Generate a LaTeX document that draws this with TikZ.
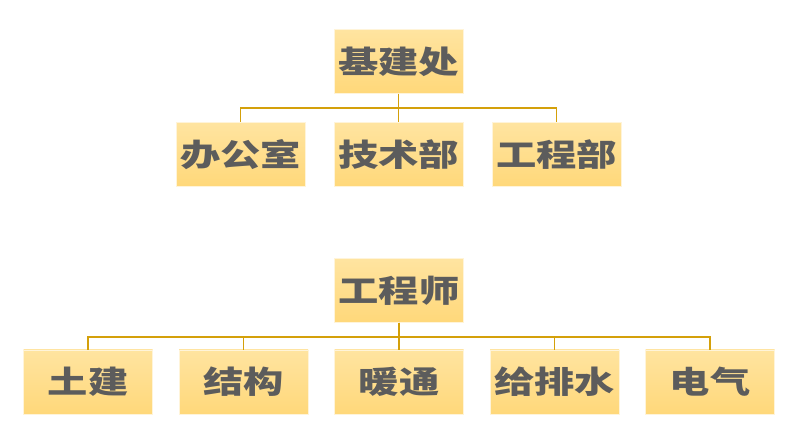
\documentclass[tikz,border=0pt]{standalone}
\usepackage{fontspec}
\usepackage{tikz}
\newfontfamily\cjk{Noto Sans CJK SC}[FakeStretch=1.3]
\definecolor{boxtop}{RGB}{255,228,160}
\definecolor{boxbot}{RGB}{255,216,122}
\definecolor{linkcol}{RGB}{212,160,10}
\definecolor{txtgray}{RGB}{92,92,92}

\begin{document}
\begin{tikzpicture}[x=1pt,y=1pt,
  box/.style={rectangle,minimum width=129pt,minimum height=64pt,inner sep=0pt,
    top color=boxtop,bottom color=boxbot,draw=boxtop!40!white,line width=0.6pt,
    text=txtgray,font=\cjk\bfseries\fontsize{31}{31}\selectfont},
  link/.style={draw=linkcol,line width=1.6pt},
  edge from parent/.style={link},
  edge from parent path={(\tikzparentnode.south) -- +(0,-14pt) -| (\tikzchildnode.north)}]
\useasboundingbox (0,0) rectangle (798,442);
% upper tree
\node [box] (jjc) at (398.5,380.5) {基建处}
	[level distance=93pt,sibling distance=158pt]
	child{node [box] (bgs) {办公室}}
	child{node [box] (jsb) {技术部}}
	child{node [box] (gcb) {工程部}};
% lower tree
\node [box] (gcs) at (399,151.5) {工程师}
	[level distance=91.5pt,sibling distance=155.5pt]
	child{node [box] (tj) {土建}}
	child{node [box] (jg) {结构}}
	child{node [box] (nt) {暖通}}
	child{node [box] (gps) {给排水}}
	child{node [box] (dq) {电气}};
\end{tikzpicture}
\end{document}
